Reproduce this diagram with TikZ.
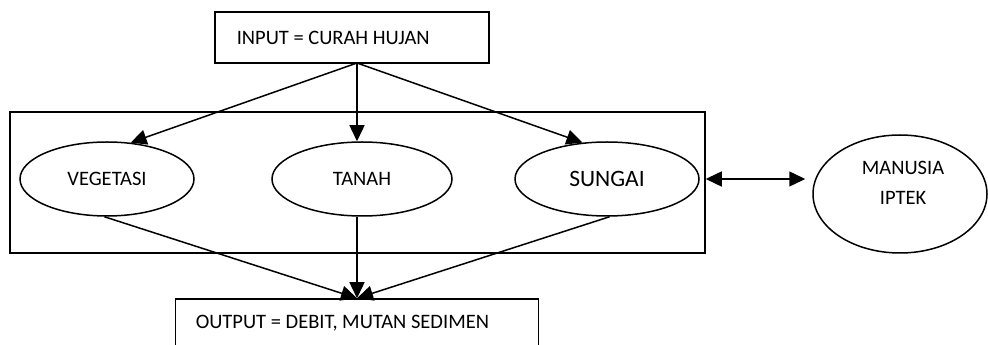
\documentclass[tikz,border=0pt]{standalone}
\usepackage{fontspec}
\setmainfont{Carlito}
\usetikzlibrary{arrows.meta,shapes.geometric}
\begin{document}
\begin{tikzpicture}[x=1pt,y=1pt,
  line width=1.5pt,
  every node/.style={font=\fontsize{20.5}{30}\selectfont},
  boxnode/.style={draw,rectangle,inner sep=0pt},
  ell/.style={draw,ellipse,inner sep=0pt},
  txt/.style={inner sep=0pt},
  arr/.style={-{Triangle[length=16pt,width=15pt]}},
  darr/.style={{Triangle[length=16pt,width=15pt]}-{Triangle[length=16pt,width=15pt]}}
]
\useasboundingbox (0,0) rectangle (988,345);
\clip (0,0) rectangle (988,345);
\fill[white] (0,0) rectangle (988,345);
% boxes
\node[boxnode, minimum width=274pt, minimum height=51pt] (input) at (352,307.5) {};
\node[txt, anchor=west] (inputtxt) at (236,307) {INPUT = CURAH HUJAN};
\node[boxnode, minimum width=695pt, minimum height=141pt] (outer) at (357.5,162.5) {};
\node[boxnode, minimum width=363pt, minimum height=66pt] (output) at (357,13) {};
\node[txt, anchor=west] (outputtxt) at (195,22) {OUTPUT = DEBIT, MUTAN SEDIMEN};
% ellipses
\node[ell, minimum width=174pt, minimum height=74pt] (veg) at (107,166) {VEGETASI};
\node[ell, minimum width=180pt, minimum height=74pt] (tan) at (362,166) {TANAH};
\node[ell, minimum width=184pt, minimum height=74pt, font=\fontsize{23.5}{28}\selectfont] (sun) at (607,166) {SUNGAI};
\node[ell, minimum width=174pt, minimum height=118pt] (man) at (900,151) {};
\node[txt, align=center] (mantxt) at (903,162) {MANUSIA\\IPTEK};
% connectors
\coordinate (src) at (357,282);
\draw[arr] (src) -- (veg.57);
\draw[arr] (src) -- (src |- tan.north);
\draw[arr] (src) -- (sun.124);
\draw[arr] (veg.266) -- (output.north);
\draw[arr] (output.north |- tan.south) -- (output.north);
\draw[arr] (sun.-86) -- (output.north);
\draw[darr, shorten >=7pt] (outer.east |- sun.east) -- (man.west |- sun.east);
\end{tikzpicture}
\end{document}
